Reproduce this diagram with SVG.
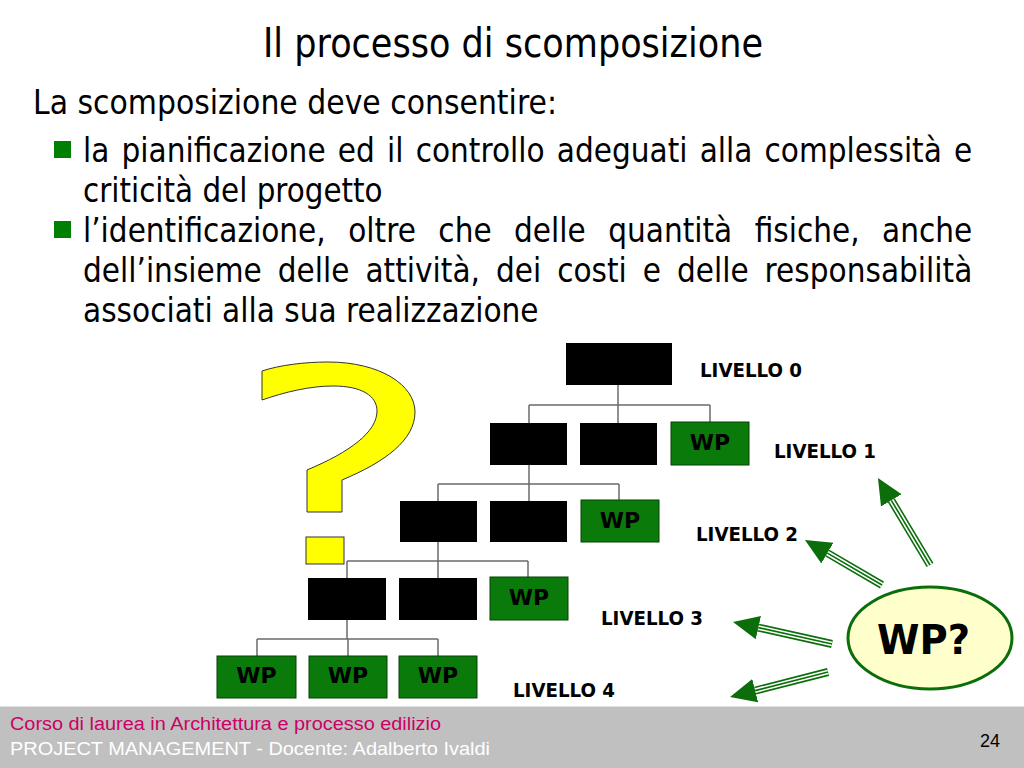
<svg xmlns="http://www.w3.org/2000/svg" width="1024" height="768" viewBox="0 0 1024 768">
<style>
.body{font-family:"DejaVu Sans","Verdana",sans-serif;font-size:34px;fill:#000}
.title{font-family:"DejaVu Sans","Verdana",sans-serif;font-size:40px;fill:#000}
.lvl{font-family:"DejaVu Sans","Verdana",sans-serif;font-size:19px;font-weight:bold;fill:#000}
.wp{font-family:"DejaVu Sans","Verdana",sans-serif;font-size:22px;font-weight:bold;fill:#000;text-anchor:middle}
.blk{fill:#000}
.grn{fill:#0a7a0a;stroke:#064006;stroke-width:1}
.conn{stroke:#6b6b6b;stroke-width:1.5;fill:none}
.foot{font-family:"Liberation Sans Narrow","Liberation Sans",Arial,sans-serif;font-size:18px}
.a1{stroke:#0b6e0b;stroke-width:8;fill:none}
.a2{stroke:#fff;stroke-width:4.8;fill:none}
.a3{stroke:#0b6e0b;stroke-width:1.6;fill:none}
</style>
<defs>
<marker id="head" markerUnits="userSpaceOnUse" viewBox="0 -13 28 26" markerWidth="28" markerHeight="26" refX="0" refY="0" orient="auto">
<path d="M0,-12 L26,0 L0,12 Z" fill="#0b6e0b"/>
</marker>
</defs>
<rect x="0" y="0" width="1024" height="768" fill="#fff"/>

<g id="title">
<text class="title" x="263" y="57" textLength="500" lengthAdjust="spacingAndGlyphs">Il processo di scomposizione</text>
</g>

<g id="body">
<text class="body" x="33" y="114" textLength="524" lengthAdjust="spacingAndGlyphs">La scomposizione deve consentire:</text>
<rect x="54" y="141" width="17" height="17" fill="#008000"/>
<rect x="54" y="221" width="17" height="17" fill="#008000"/>
<g transform="translate(83,0) scale(0.871,1)">
<text class="body" x="0" y="162" word-spacing="3.2" textLength="1021" lengthAdjust="spacing">la pianificazione ed il controllo adeguati alla complessità e</text>
<text class="body" x="0" y="202" textLength="344" lengthAdjust="spacingAndGlyphs">criticità del progetto</text>
<text class="body" x="0" y="242" word-spacing="15" textLength="1021" lengthAdjust="spacing">l’identificazione, oltre che delle quantità fisiche, anche</text>
<text class="body" x="0" y="282" word-spacing="7.5" textLength="1021" lengthAdjust="spacing">dell’insieme delle attività, dei costi e delle responsabilità</text>
<text class="body" x="0" y="322" textLength="523" lengthAdjust="spacingAndGlyphs">associati alla sua realizzazione</text>
</g>
</g>

<g id="question-mark">
<path d="M262,371 C280,365 305,362 328,362 C380,362 415,385 415,412 C415,440 385,462 342,480 L342,512 L307,512 L307,470 C350,452 377,432 377,411 C377,396 362,386 333,386 C310,386 285,392 262,400 Z" fill="#ffff00" stroke="#333" stroke-width="1"/>
<rect x="306" y="537" width="38" height="27" fill="#ffff00" stroke="#333" stroke-width="1"/>
</g>

<g id="connectors">
<path class="conn" d="M618,385 V405 M529,405 H710 M529,405 V423 M618,405 V423 M710,405 V422"/>
<path class="conn" d="M529,465 V484 M438,484 H619 M438,484 V501 M529,484 V501 M619,484 V500"/>
<path class="conn" d="M438,542 V561 M347,561 H528 M347,561 V578 M438,561 V578 M528,561 V577"/>
<path class="conn" d="M347,620 V639 M257,639 H438 M257,639 V656 M348,639 V656 M438,639 V656"/>
</g>

<g id="n-l0"><rect class="blk" x="566" y="343" width="106" height="42"/></g>
<g id="n-l1a"><rect class="blk" x="490" y="423" width="77" height="42"/></g>
<g id="n-l1b"><rect class="blk" x="580" y="423" width="77" height="42"/></g>
<g id="n-l1wp"><rect class="grn" x="671" y="422" width="78" height="43"/><text class="wp" x="710" y="450">WP</text></g>
<g id="n-l2a"><rect class="blk" x="400" y="501" width="77" height="41"/></g>
<g id="n-l2b"><rect class="blk" x="490" y="501" width="77" height="41"/></g>
<g id="n-l2wp"><rect class="grn" x="581" y="500" width="78" height="42"/><text class="wp" x="620" y="528">WP</text></g>
<g id="n-l3a"><rect class="blk" x="308" y="578" width="78" height="42"/></g>
<g id="n-l3b"><rect class="blk" x="399" y="578" width="78" height="42"/></g>
<g id="n-l3wp"><rect class="grn" x="490" y="577" width="78" height="43"/><text class="wp" x="529" y="605">WP</text></g>
<g id="n-l4a"><rect class="grn" x="217" y="656" width="79" height="42"/><text class="wp" x="256.5" y="683">WP</text></g>
<g id="n-l4b"><rect class="grn" x="309" y="656" width="78" height="42"/><text class="wp" x="348" y="683">WP</text></g>
<g id="n-l4c"><rect class="grn" x="399" y="656" width="78" height="42"/><text class="wp" x="438" y="683">WP</text></g>

<g id="levels">
<text class="lvl" x="700" y="377" textLength="102" lengthAdjust="spacingAndGlyphs">LIVELLO 0</text>
<text class="lvl" x="774" y="458" textLength="102" lengthAdjust="spacingAndGlyphs">LIVELLO 1</text>
<text class="lvl" x="696" y="541" textLength="102" lengthAdjust="spacingAndGlyphs">LIVELLO 2</text>
<text class="lvl" x="601" y="625" textLength="102" lengthAdjust="spacingAndGlyphs">LIVELLO 3</text>
<text class="lvl" x="513" y="697" textLength="102" lengthAdjust="spacingAndGlyphs">LIVELLO 4</text>
</g>

<g id="arrows">
<g>
<line class="a1" x1="930" y1="565" x2="891.3" y2="500.3" marker-end="url(#head)"/>
<line class="a2" x1="930" y1="565" x2="891.3" y2="500.3"/>
<line class="a3" x1="930" y1="565" x2="891.3" y2="500.3"/>
</g>
<g>
<line class="a1" x1="882" y1="585" x2="827.4" y2="553.1" marker-end="url(#head)"/>
<line class="a2" x1="882" y1="585" x2="827.4" y2="553.1"/>
<line class="a3" x1="882" y1="585" x2="827.4" y2="553.1"/>
</g>
<g>
<line class="a1" x1="832" y1="644" x2="758.4" y2="627.6" marker-end="url(#head)"/>
<line class="a2" x1="832" y1="644" x2="758.4" y2="627.6"/>
<line class="a3" x1="832" y1="644" x2="758.4" y2="627.6"/>
</g>
<g>
<line class="a1" x1="828" y1="672" x2="755.2" y2="690.6" marker-end="url(#head)"/>
<line class="a2" x1="828" y1="672" x2="755.2" y2="690.6"/>
<line class="a3" x1="828" y1="672" x2="755.2" y2="690.6"/>
</g>
</g>

<g id="wp-question">
<ellipse cx="930" cy="638" rx="82" ry="51" fill="#ffffcc" stroke="#0b6e0b" stroke-width="3"/>
<text x="877" y="654" font-family="DejaVu Sans,Verdana,sans-serif" font-size="40" font-weight="bold" textLength="93" lengthAdjust="spacingAndGlyphs">WP?</text>
</g>

<g id="footer">
<rect x="0" y="706" width="1024" height="62" fill="#c0c0c0"/>
<line x1="0" y1="706.5" x2="1024" y2="706.5" stroke="#e0e0e0" stroke-width="1"/>
<text class="foot" x="10" y="730" fill="#cc0066" textLength="431" lengthAdjust="spacingAndGlyphs">Corso di laurea in Architettura e processo edilizio</text>
<text class="foot" x="10" y="755" fill="#ffffff" textLength="480" lengthAdjust="spacingAndGlyphs">PROJECT MANAGEMENT - Docente: Adalberto Ivaldi</text>
<text class="foot" x="980" y="747" fill="#000">24</text>
</g>
</svg>
